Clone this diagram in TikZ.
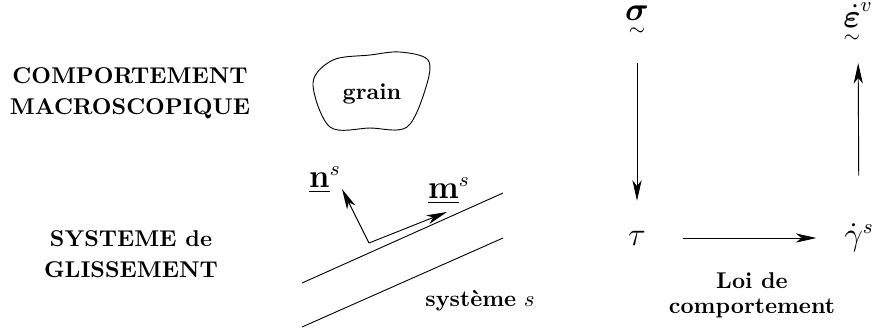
\documentclass[tikz,border=0pt]{standalone}
\usepackage{amsmath,amssymb,bm}
\usetikzlibrary{arrows.meta,positioning}
\newcommand{\tens}[1]{\mathord{\setbox0=\hbox{$#1$}\rlap{\hbox to \wd0{\hss\raisebox{-6.6pt}{$\scriptstyle\sim$}\hss}}\box0}}

\begin{document}
\begin{tikzpicture}[x=0.0154cm, y=-0.0154cm,
    >={Stealth[length=9pt, width=4pt, inset=2.5pt]},
    label/.style={font=\bfseries, align=center},
    var/.style={font=\fontsize{13.5}{16}\selectfont, inner sep=2pt}]
    \useasboundingbox (0,0) rectangle (872,330);

    % Levels
    \node (macro) [label] at (130,93) {COMPORTEMENT\\[1.6pt]MACROSCOPIQUE};
    \node (syst) [label] at (131,254) {SYSTEME de\\[1.6pt]GLISSEMENT};

    % Grain
    \draw plot[smooth cycle, tension=0.55] coordinates {(333,60) (370,55) (400,52) (428,60) (426,87) (407,127) (370,128) (330,127) (313,83)};
    \node (grain) [label] at (372,94) {grain};

    % Slip system
    \coordinate (a1) at (302,283);
    \coordinate (a2) at (503,193);
    \coordinate (b1) at (302,327);
    \coordinate (b2) at (503,238);
    \coordinate (o) at (369,243);
    \coordinate (mtip) at (447,212);
    \coordinate (ntip) at (342,189);
    \draw (a1) -- (a2);
    \draw (b1) -- (b2);
    \draw[->] (o) -- (mtip);
    \draw[->] (o) -- (ntip);
    \node (n) [var] at (325,180) {$\underline{\mathbf{n}}^{s}$};
    \node (m) [var] at (449,191) {$\underline{\mathbf{m}}^{s}$};
    \node (sname) at (480,301) {\textbf{système} $s$};

    % Variables
    \node (sigma) [var, anchor=base] at (637,20) {$\tens{\boldsymbol{\sigma}}$};
    \node (eps) [var, anchor=base] at (858,27) {$\tens{\dot{\boldsymbol{\varepsilon}}}^{v}$};
    \node (tau) [var] at (637,238) {$\tau$};
    \node (gamma) [var] at (859,238) {$\dot{\gamma}^{s}$};
    \node (loi) [label] at (752,295) {Loi de\\[-1pt]comportement};

    % Transitions
    \draw[->, shorten <=10pt, shorten >=11pt] (sigma) -- (tau);
    \draw[->, shorten <=19pt, shorten >=7pt] (gamma) -- (eps);
    \draw[->, shorten <=14pt, shorten >=10pt] (tau) -- (gamma);
\end{tikzpicture}
\end{document}
